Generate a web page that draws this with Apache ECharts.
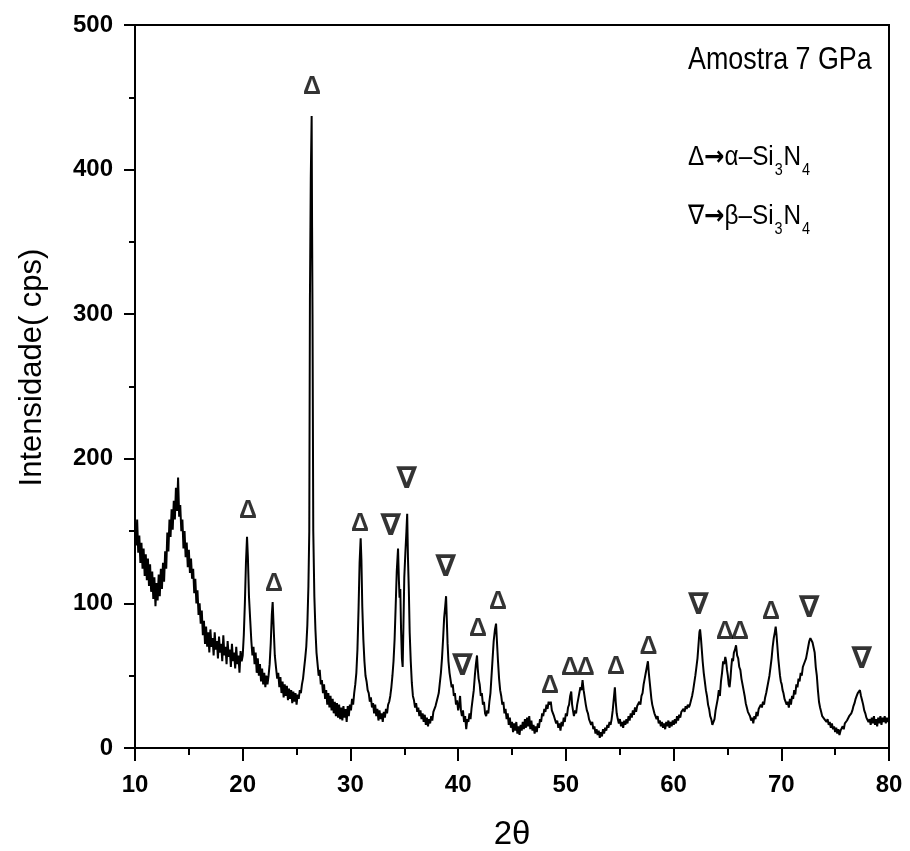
<!DOCTYPE html>
<html>
<head>
<meta charset="utf-8">
<script src="https://cdn.jsdelivr.net/npm/echarts@6.0.0/dist/echarts.min.js"></script>
<style>
  html, body { margin: 0; padding: 0; background: #fff; }
  #chart { width: 910px; height: 851px; }
</style>
</head>
<body>
<div id="chart"></div>
<script>
// XRD scan: [2theta, intensity (cps)]
const scan10to20 = [
  [10.0,152],[10.1,140],[10.2,158],[10.3,135],[10.4,147],[10.5,128],[10.6,142],[10.7,124],[10.8,138],[10.9,119],
  [11.0,134],[11.1,116],[11.2,131],[11.3,112],[11.4,127],[11.5,108],[11.6,122],[11.7,103],[11.8,118],[11.9,98],
  [12.0,114],[12.1,102],[12.2,120],[12.3,105],[12.4,124],[12.5,110],[12.6,128],[12.7,115],[12.8,136],[12.9,124],
  [13.0,149],[13.1,136],[13.2,158],[13.3,146],[13.4,165],[13.5,151],[13.6,171],[13.7,158],[13.8,180],[13.9,164],
  [14.0,187],[14.1,160],[14.2,168],[14.3,150],[14.4,158],[14.5,138],[14.6,150],[14.7,132],[14.8,142],[14.9,125],
  [15.0,137],[15.1,121],[15.2,131],[15.3,117],[15.4,124],[15.5,107],[15.6,117],[15.7,100],[15.8,109],[15.9,92],
  [16.0,100],[16.1,86],[16.2,95],[16.3,78],[16.4,88],[16.5,72],[16.6,84],[16.7,70],[16.8,80],[16.9,66],
  [17.0,82],[17.1,70],[17.2,76],[17.3,64],[17.4,80],[17.5,68],[17.6,74],[17.7,62],[17.8,77],[17.9,66],
  [18.0,72],[18.1,60],[18.2,78],[18.3,64],[18.4,70],[18.5,58],[18.6,74],[18.7,63],[18.8,68],[18.9,56],
  [19.0,72],[19.1,60],[19.2,66],[19.3,55],[19.4,70],[19.5,58],[19.6,64],[19.7,52],[19.8,67],[19.9,60]
];
const scan20to30 = [
  [20.0,64],[20.1,78],[20.2,100],[20.3,128],[20.4,146],[20.48,132],[20.58,105],[20.7,88],[20.8,74],[20.9,64],
  [21.0,70],[21.1,58],[21.2,66],[21.3,52],[21.4,62],[21.5,50],[21.6,58],[21.7,46],[21.8,55],[21.9,44],
  [22.0,52],[22.1,42],[22.2,50],[22.3,44],[22.4,50],[22.5,58],[22.6,72],[22.7,92],[22.78,101],[22.88,82],
  [22.98,64],[23.1,55],[23.2,48],[23.3,52],[23.4,42],[23.5,49],[23.6,38],[23.7,46],[23.8,35],[23.9,44],
  [24.0,36],[24.1,43],[24.2,33],[24.3,41],[24.4,34],[24.5,40],[24.6,31],[24.7,39],[24.8,32],[24.9,38],
  [25.0,30],[25.1,37],[25.2,34],[25.3,40],[25.4,38],[25.5,44],[25.6,48],[25.7,55],[25.8,62],[25.9,70],
  [26.0,85],[26.1,112],[26.18,150],[26.24,310],[26.32,395],[26.4,437],[26.44,360],[26.48,300],[26.55,150],[26.65,105],
  [26.75,82],[26.85,66],[26.95,58],[27.05,50],[27.15,54],[27.25,44],[27.35,47],[27.45,38],[27.55,44],[27.65,34],
  [27.75,40],[27.85,30],[27.95,38],[28.05,28],[28.15,36],[28.25,26],[28.35,34],[28.45,24],[28.55,32],[28.65,22],
  [28.75,31],[28.85,21],[28.95,30],[29.05,20],[29.15,28],[29.25,19],[29.35,29],[29.45,21],[29.55,27],[29.65,18],
  [29.75,29],[29.85,22],[29.95,30]
];
const scan30to41 = [
  [30.05,26],[30.15,34],[30.25,30],[30.35,38],[30.45,44],[30.55,52],[30.65,68],[30.75,95],[30.85,128],[30.95,145],
  [31.02,130],[31.1,98],[31.2,75],[31.3,60],[31.4,50],[31.5,46],[31.6,40],[31.7,38],[31.8,32],[31.9,35],
  [32.0,28],[32.1,31],[32.2,24],[32.3,30],[32.4,22],[32.5,27],[32.6,19],[32.7,26],[32.8,20],[32.9,24],
  [33.0,18],[33.1,25],[33.2,21],[33.3,27],[33.4,24],[33.5,30],[33.6,32],[33.7,36],[33.8,42],[33.9,50],
  [34.0,60],[34.1,75],[34.2,98],[34.3,122],[34.42,138],[34.5,116],[34.56,104],[34.63,110],[34.7,82],[34.78,62],
  [34.85,56],[34.92,84],[35.0,118],[35.1,135],[35.2,150],[35.27,162],[35.34,132],[35.42,110],[35.5,80],[35.6,60],
  [35.7,45],[35.8,36],[35.9,33],[36.0,28],[36.1,31],[36.2,25],[36.3,28],[36.4,22],[36.5,26],[36.6,20],
  [36.7,24],[36.8,18],[36.9,23],[37.0,16],[37.1,21],[37.2,15],[37.3,20],[37.4,17],[37.5,22],[37.6,19],
  [37.7,25],[37.8,24],[37.9,29],[38.0,30],[38.1,35],[38.2,38],[38.3,45],[38.4,52],[38.5,62],[38.6,75],
  [38.7,90],[38.8,98],[38.88,105],[38.95,88],[39.02,72],[39.1,60],[39.2,52],[39.3,47],[39.4,42],[39.5,44],
  [39.6,36],[39.7,38],[39.8,30],[39.9,33],[40.0,26],[40.1,30],[40.18,36],[40.26,26],[40.35,22],[40.45,26],
  [40.55,18],[40.65,22],[40.75,13],[40.85,20],[40.95,18]
];
const scan41to50 = [
  [41.05,24],[41.15,20],[41.25,28],[41.35,34],[41.45,40],[41.55,50],[41.65,58],[41.75,64],[41.82,55],[41.9,48],
  [42.0,44],[42.1,36],[42.2,38],[42.3,30],[42.4,32],[42.5,24],[42.6,22],[42.7,26],[42.8,24],[42.9,32],
  [43.0,38],[43.1,50],[43.2,62],[43.3,74],[43.42,82],[43.52,86],[43.6,74],[43.7,60],[43.8,48],[43.9,40],
  [44.0,36],[44.1,30],[44.2,32],[44.3,24],[44.4,27],[44.5,20],[44.6,24],[44.7,16],[44.8,21],[44.9,14],
  [45.0,18],[45.1,11],[45.2,17],[45.3,12],[45.4,18],[45.5,10],[45.6,15],[45.7,9],[45.8,16],[45.9,12],
  [46.0,18],[46.1,13],[46.2,20],[46.3,14],[46.4,21],[46.5,15],[46.6,22],[46.7,13],[46.8,19],[46.9,12],
  [47.0,16],[47.1,10],[47.2,15],[47.3,11],[47.4,17],[47.5,14],[47.6,20],[47.7,18],[47.8,24],[47.9,22],
  [48.0,27],[48.1,25],[48.2,30],[48.3,27],[48.4,32],[48.5,30],[48.6,32],[48.7,26],[48.8,27],[48.9,22],
  [49.0,22],[49.1,17],[49.2,19],[49.3,14],[49.4,17],[49.5,12],[49.6,18],[49.7,15],[49.8,21],[49.9,18]
];
const scan50to60 = [
  [50.0,24],[50.1,22],[50.2,28],[50.3,30],[50.4,36],[50.5,39],[50.58,30],[50.66,26],[50.75,22],[50.85,26],
  [50.95,24],[51.05,30],[51.15,34],[51.25,38],[51.35,42],[51.45,40],[51.55,47],[51.65,40],[51.75,35],[51.85,30],
  [51.95,26],[52.05,24],[52.15,20],[52.25,21],[52.35,16],[52.45,18],[52.55,13],[52.65,15],[52.75,10],[52.85,13],
  [52.95,9],[53.05,12],[53.15,7],[53.25,11],[53.35,8],[53.45,13],[53.55,10],[53.65,14],[53.75,12],[53.85,16],
  [53.95,14],[54.05,18],[54.15,16],[54.25,20],[54.35,26],[54.45,34],[54.55,42],[54.63,32],[54.72,24],[54.82,20],
  [54.92,17],[55.02,20],[55.12,15],[55.22,18],[55.32,14],[55.42,19],[55.52,16],[55.62,20],[55.72,17],[55.82,22],
  [55.92,19],[56.02,24],[56.12,21],[56.22,26],[56.32,23],[56.42,28],[56.52,25],[56.62,29],[56.72,28],[56.82,32],
  [56.92,30],[57.02,36],[57.12,38],[57.22,44],[57.32,48],[57.42,52],[57.52,56],[57.62,60],[57.7,52],[57.78,46],
  [57.86,40],[57.94,34],[58.02,30],[58.12,27],[58.22,24],[58.32,22],[58.42,20],[58.52,22],[58.62,17],[58.72,19],
  [58.82,15],[58.92,18],[59.02,14],[59.12,17],[59.22,13],[59.32,18],[59.42,15],[59.52,19],[59.62,14],[59.72,18],
  [59.82,15],[59.92,19]
];
const scan60to70 = [
  [60.02,16],[60.12,20],[60.22,17],[60.32,22],[60.42,19],[60.52,23],[60.62,21],[60.72,25],[60.82,24],[60.92,27],
  [61.02,25],[61.12,29],[61.22,27],[61.32,30],[61.42,28],[61.52,30],[61.62,33],[61.72,36],[61.82,40],[61.92,45],
  [62.02,50],[62.12,56],[62.22,62],[62.32,72],[62.4,80],[62.46,82],[62.54,76],[62.62,68],[62.7,60],[62.8,52],
  [62.9,46],[63.0,40],[63.1,36],[63.2,30],[63.3,27],[63.4,22],[63.5,20],[63.6,16],[63.7,15],[63.8,20],
  [63.9,26],[64.0,30],[64.1,34],[64.2,40],[64.3,36],[64.4,46],[64.5,52],[64.6,60],[64.7,58],[64.8,63],
  [64.88,60],[64.96,54],[65.04,50],[65.12,44],[65.2,42],[65.28,48],[65.36,56],[65.44,62],[65.52,60],[65.6,66],
  [65.7,68],[65.8,71],[65.9,64],[66.0,62],[66.1,56],[66.2,54],[66.3,48],[66.4,47],[66.5,40],[66.6,36],
  [66.7,31],[66.8,28],[66.9,25],[67.0,24],[67.1,22],[67.2,19],[67.3,21],[67.4,17],[67.5,22],[67.6,20],
  [67.7,25],[67.8,22],[67.9,27],[68.0,26],[68.1,30],[68.2,28],[68.3,32],[68.4,30],[68.5,35],[68.6,38],
  [68.7,42],[68.8,46],[68.9,50],[69.0,56],[69.1,62],[69.2,70],[69.3,76],[69.4,80],[69.48,84],[69.56,78],
  [69.64,70],[69.72,62],[69.8,56],[69.88,50],[69.96,46]
];
const scan70to80 = [
  [70.04,44],[70.12,40],[70.2,38],[70.3,34],[70.4,33],[70.5,30],[70.6,32],[70.7,28],[70.8,34],[70.9,30],
  [71.0,36],[71.1,34],[71.2,40],[71.3,37],[71.4,44],[71.5,42],[71.6,48],[71.7,46],[71.8,52],[71.9,50],
  [72.0,56],[72.1,55],[72.2,60],[72.3,62],[72.4,66],[72.5,70],[72.6,74],[72.7,76],[72.8,77],[72.9,73],
  [73.0,72],[73.1,66],[73.2,56],[73.3,50],[73.4,40],[73.5,32],[73.6,28],[73.7,25],[73.8,22],[73.9,23],
  [74.0,20],[74.1,21],[74.2,18],[74.3,20],[74.4,16],[74.5,18],[74.6,14],[74.7,17],[74.8,13],[74.9,15],
  [75.0,11],[75.1,14],[75.2,10],[75.3,13],[75.4,9],[75.5,12],[75.6,11],[75.7,15],[75.8,13],[75.9,17],
  [76.0,16],[76.1,19],[76.2,18],[76.3,22],[76.4,21],[76.5,24],[76.6,26],[76.7,29],[76.8,31],[76.9,34],
  [77.0,36],[77.1,38],[77.2,37],[77.3,40],[77.4,36],[77.5,33],[77.6,30],[77.7,26],[77.8,24],[77.9,21],
  [78.0,22],[78.1,18],[78.2,20],[78.3,16],[78.4,21],[78.5,17],[78.6,22],[78.7,16],[78.8,20],[78.9,15],
  [79.0,21],[79.1,17],[79.2,22],[79.3,16],[79.4,21],[79.5,18],[79.6,22],[79.7,17],[79.8,21],[79.9,18],
  [80.0,20]
];

// where the phase markers sit (label centre, data units)
const alphaMarks = [
  [20.49,164],[22.91,113],[26.43,457],[30.89,155],[41.85,82],[43.70,101],[48.53,43],
  [50.39,55],[51.85,55],[54.66,56],[57.66,70],[64.78,80],[66.17,80],[69.05,94]
];
const betaMarks = [
  [33.74,153],[35.22,185],[38.84,124],[40.39,56],[62.30,98],[72.60,96],[77.47,61]
];

const xTicks = { min: 10, max: 80, step: 10 };
const yTicks = { min: 0, max: 500, step: 100 };

const scan = [].concat(scan10to20, scan20to30, scan30to41, scan41to50, scan50to60, scan60to70, scan70to80);

const sans = "'Liberation Sans', Arial, sans-serif";

const chart = echarts.init(document.getElementById('chart'));

const axisCommon = {
  type: 'value',
  axisLine: { show: true, onZero: false, lineStyle: { color: '#000', width: 2 } },
  axisTick: { show: true, inside: false, lineStyle: { color: '#000', width: 2 } },
  minorTick: { show: true, splitNumber: 2, lineStyle: { color: '#000', width: 2 } },
  splitLine: { show: false },
  minorSplitLine: { show: false }
};

// formula line: bigger arrow, subscripts dropped below baseline
const formulaRich = {
  ar: { fontSize: 27, fontFamily: "'DejaVu Sans', sans-serif", fontWeight: 'bold', fill: '#000' },
  s: { fontSize: 16, fontFamily: sans, fill: '#000', padding: [26, 1, 0, 1] }
};

const option = {
  animation: false,
  backgroundColor: '#fff',
  grid: {
    left: 135, right: 21, top: 25, bottom: 103,
    show: true, borderColor: '#000', borderWidth: 2,
    outerBoundsMode: 'none'
  },
  xAxis: Object.assign({}, axisCommon, {
    min: xTicks.min, max: xTicks.max, interval: xTicks.step,
    axisTick: Object.assign({}, axisCommon.axisTick, { length: 13 }),
    minorTick: Object.assign({}, axisCommon.minorTick, { length: 7 }),
    axisLabel: { color: '#000', fontSize: 24, fontWeight: 'bold', fontFamily: sans, margin: 25 },
    name: '2θ',
    nameLocation: 'middle',
    nameGap: 70,
    nameTextStyle: { color: '#000', fontSize: 33, fontFamily: sans }
  }),
  yAxis: Object.assign({}, axisCommon, {
    min: yTicks.min, max: yTicks.max, interval: yTicks.step,
    axisTick: Object.assign({}, axisCommon.axisTick, { length: 11 }),
    minorTick: Object.assign({}, axisCommon.minorTick, { length: 6 }),
    axisLabel: { color: '#000', fontSize: 24, fontWeight: 'bold', fontFamily: sans, margin: 22 },
    name: 'Intensidade( cps)',
    nameLocation: 'middle',
    nameGap: 87,
    nameTextStyle: { color: '#000', fontSize: 31, fontFamily: sans, padding: [0, 0, 0, 38] }
  }),
  series: [
    {
      name: 'Amostra 7 GPa',
      type: 'line',
      data: scan,
      showSymbol: false,
      symbol: 'none',
      lineStyle: { color: '#000', width: 2 },
      z: 3
    },
    {
      name: 'alpha',
      type: 'scatter',
      data: alphaMarks,
      symbolSize: 1,
      itemStyle: { color: 'rgba(0,0,0,0)' },
      label: {
        show: true, position: 'inside', formatter: 'Δ',
        color: '#000', fontSize: 25, fontWeight: 'bold', fontFamily: sans
      },
      z: 4
    },
    {
      name: 'beta',
      type: 'scatter',
      data: betaMarks,
      symbolSize: 1,
      itemStyle: { color: 'rgba(0,0,0,0)' },
      label: {
        show: true, position: 'inside', formatter: '∇',
        color: '#000', fontSize: 30, fontWeight: 'bold', fontFamily: "'DejaVu Sans', sans-serif"
      },
      z: 4
    }
  ],
  graphic: [
    {
      type: 'text', x: 688, y: 44, scaleX: 0.84,
      style: { text: 'Amostra 7 GPa', fill: '#000', fontSize: 32, fontFamily: sans }
    },
    {
      type: 'text', x: 688, y: 137, scaleX: 0.9,
      style: {
        text: 'Δ{ar|→}α–Si{s|3}N{s|4}', fill: '#000', fontSize: 27, fontFamily: sans,
        rich: formulaRich
      }
    },
    {
      type: 'text', x: 688, y: 196, scaleX: 0.9,
      style: {
        text: '∇{ar|→}β–Si{s|3}N{s|4}', fill: '#000', fontSize: 27, fontFamily: sans,
        rich: formulaRich
      }
    }
  ]
};

option && chart.setOption(option);
</script>
</body>
</html>
